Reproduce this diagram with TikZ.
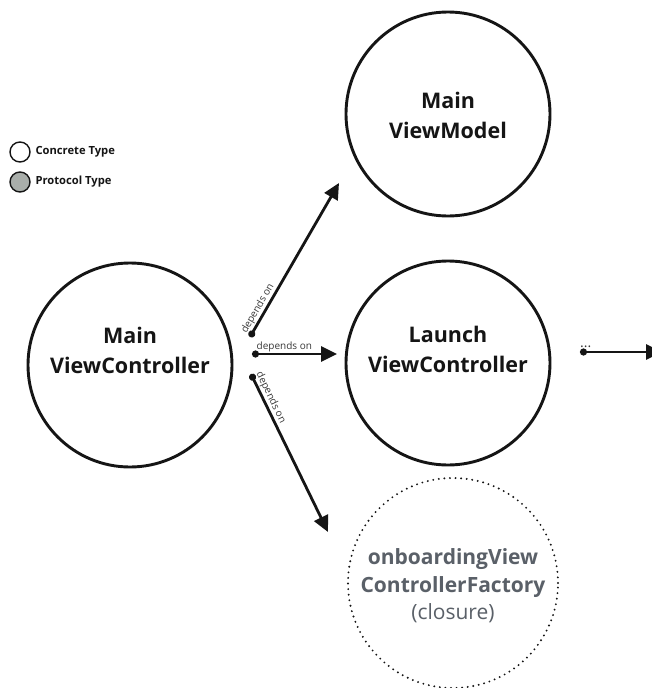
\documentclass[tikz,border=0pt]{standalone}
\usepackage{fontspec}
\setmainfont{Open Sans}
\usetikzlibrary{arrows.meta}
\definecolor{ink}{HTML}{151515}
\definecolor{greytext}{HTML}{5A6068}
\definecolor{protofill}{HTML}{A9AEAA}
\tikzset{
  typecircle/.style={circle, draw=ink, line width=2.9pt, minimum size=204pt, inner sep=0pt},
  typetext/.style={align=center, inner sep=0pt, font=\bfseries\fontsize{21.5}{30}\selectfont, text=ink},
  closurecircle/.style={circle, draw=ink, line width=2.1pt, line cap=round, dash pattern=on 0pt off 5.6pt, minimum size=210pt, inner sep=0pt},
  closuretext/.style={align=center, inner sep=0pt, font=\fontsize{21}{27.5}\selectfont, text=greytext},
  legendcircle/.style={circle, draw=ink, line width=1.4pt, minimum size=20pt, inner sep=0pt},
  legendtext/.style={anchor=west, font=\fontsize{11.2}{13}\selectfont\bfseries, text=ink},
  dep/.style={line width=2.8pt, draw=ink, {Circle[length=7pt,width=7pt]}-{Triangle[length=16pt,width=15pt]}},
  deplabel/.style={font=\fontsize{10}{12}\selectfont, text=ink!85, inner sep=1pt}
}
\begin{document}
\begin{tikzpicture}[x=1pt,y=-1pt]
\useasboundingbox (0,0) rectangle (651,688);
\fill[white] (0,0) rectangle (651,688);

% legend
\node[legendcircle] (lc) at (20,152) {};
\node[legendtext] (lct) at (32,152) {Concrete Type};
\node[legendcircle, fill=protofill] (lp) at (20,182) {};
\node[legendtext] (lpt) at (32,182) {Protocol Type};

% main nodes
\node[typecircle] (mvc) at (130,365) {};
\node[typetext] (mvct) at (130,350) {Main\\ViewController};
\node[typecircle] (mvm) at (448,114) {};
\node[typetext] (mvmt) at (448,115) {Main\\ViewModel};
\node[typecircle] (lvc) at (448,363) {};
\node[typetext] (lvct) at (448,349) {Launch\\ViewController};
\node[closurecircle] (ovf) at (453,583) {};
\node[closuretext] (ovft) at (453,586) {\textbf{onboardingView}\\\textbf{ControllerFactory}\\(closure)};

% connector anchors
\coordinate (a1s) at (250,337);
\coordinate (a1e) at (339,183);
\coordinate (a2s) at (252,354);
\coordinate (a2e) at (337,354);
\coordinate (a3s) at (251,374);
\coordinate (a3e) at (328,532);
\coordinate (a4s) at (580,352);
\coordinate (a4e) at (662,352);

\draw[dep] (a1s) -- (a1e) node[deplabel, pos=0.16, above, sloped] (l1) {depends on};
\draw[dep] (a2s) -- (a2e) node[deplabel, pos=0.38, above] (l2) {depends on};
\draw[dep] (a3s) -- (a3e) node[deplabel, pos=0.17, above, sloped] (l3) {depends on};
\draw[dep] (a4s) -- (a4e) node[deplabel, pos=0.07, above, yshift=2pt, font=\fontsize{14}{15}\selectfont] (l4) {...};
\end{tikzpicture}
\end{document}
